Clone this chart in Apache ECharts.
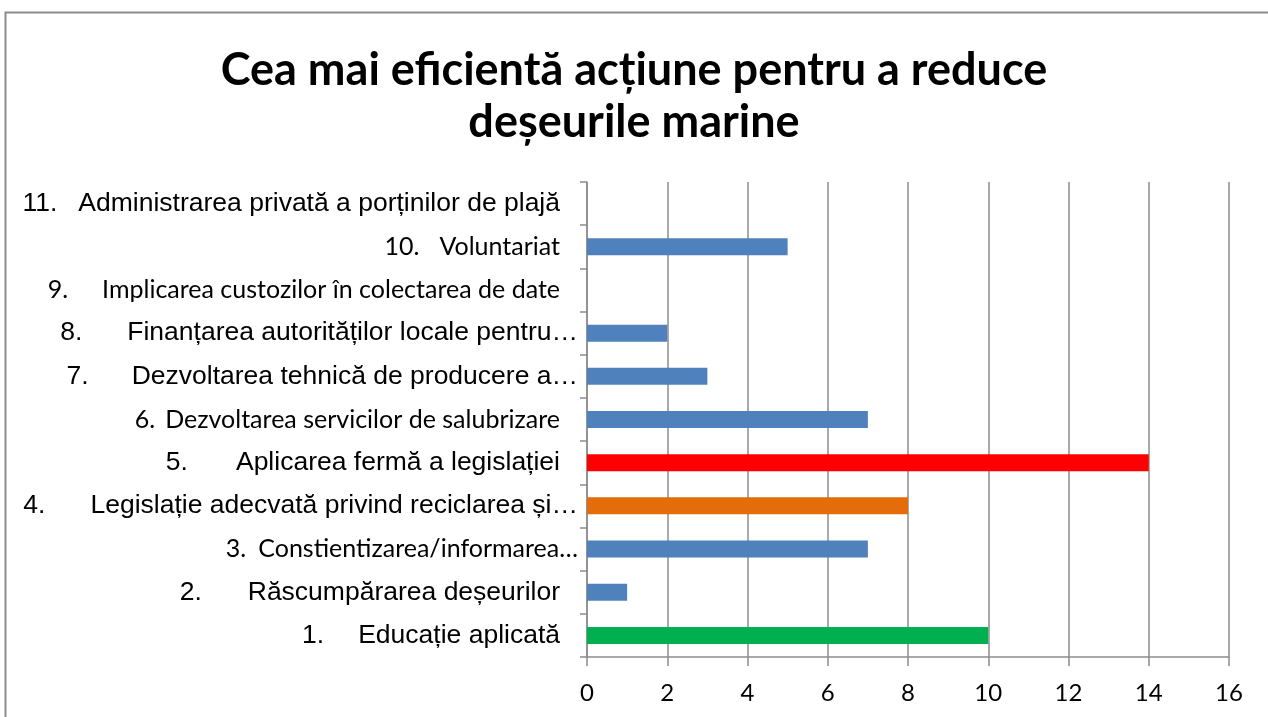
<!DOCTYPE html>
<html>
<head>
<meta charset="utf-8">
<script src="https://cdn.jsdelivr.net/npm/echarts@6/dist/echarts.min.js"></script>
<style>
  html, body { margin: 0; padding: 0; background: #fff; }
  #chart { width: 1268px; height: 717px; }
</style>
</head>
<body>
<div id="chart"></div>
<script>
const itemNumbers = ["1.", "2.", "3.", "4.", "5.", "6.", "7.", "8.", "9.", "10.", "11."];
const itemTexts = [
  "Educație aplicată",
  "Răscumpărarea deșeurilor",
  "Constientizarea/informarea…",
  "Legislație adecvată privind reciclarea și…",
  "Aplicarea fermă a legislației",
  "Dezvoltarea servicilor de salubrizare",
  "Dezvoltarea tehnică de producere a…",
  "Finanțarea autorităților locale pentru…",
  "Implicarea custozilor în colectarea de date",
  "Voluntariat",
  "Administrarea privată a porținilor de plajă",
];
const votes = [10, 1, 7, 8, 14, 7, 3, 2, 0, 5, 0];
const xTicks = [0, 2, 4, 6, 8, 10, 12, 14, 16];

// label look, per row (some rows came out in a different font in the original)
const calibriRows = [2, 5, 8, 9];
const truncatedRows = [2, 3, 6, 7];
const numberGaps = [34, 46, 12, 45, 48, 10, 43, 45, 34, 20, 21];
const highlight = { 0: "#00B050", 3: "#E46C0A", 4: "#FF0000" };

const rich = {};
itemNumbers.forEach((n, i) => {
  const calibri = calibriRows.includes(i);
  const font = calibri
    ? { fontFamily: "Lato", fontSize: 25 }
    : { fontFamily: "Liberation Sans", fontSize: 26.5 };
  rich["n" + i] = { ...font, color: "#000", padding: [0, numberGaps[i], 0, 0] };
  rich["t" + i] = { ...font, color: "#000", padding: [0, truncatedRows.includes(i) ? 0 : 18, 0, 0] };
});

const chart = echarts.init(document.getElementById("chart"));
chart.setOption({
  animation: false,
  title: {
    text: "Cea mai eficientă acțiune pentru a reduce\ndeșeurile marine",
    left: "center",
    top: 39,
    padding: [5, 0, 5, 12],
    textStyle: {
      fontFamily: "Lato",
      fontWeight: "bold",
      fontSize: 45,
      lineHeight: 52,
      color: "#000",
    },
  },
  graphic: [
    {
      type: "rect",
      left: 3,
      top: 10,
      shape: { width: 1290, height: 730 },
      style: { fill: "none", stroke: "#8c8c8c", lineWidth: 2 },
      silent: true,
    },
  ],
  grid: { left: 587, right: 39, top: 182, bottom: 60 },
  xAxis: {
    type: "value",
    min: 0,
    max: 16,
    interval: 2,
    axisLine: { show: true, lineStyle: { color: "#8c8c8c", width: 1.5 } },
    axisTick: { show: true, length: 9, lineStyle: { color: "#8c8c8c", width: 1.5 } },
    splitLine: { show: true, lineStyle: { color: "#8c8c8c", width: 1.5 } },
    axisLabel: {
      margin: 24,
      fontFamily: "Lato",
      fontSize: 24,
      color: "#000",
      formatter: (v) => (xTicks.includes(v) ? String(v) : ""),
    },
  },
  yAxis: {
    type: "category",
    data: itemTexts,
    axisLine: { show: true, lineStyle: { color: "#8c8c8c", width: 1.5 } },
    axisTick: { show: true, length: 7, lineStyle: { color: "#8c8c8c", width: 1.5 } },
    splitLine: { show: false },
    axisLabel: {
      margin: 9,
      interval: 0,
      rich,
      formatter: (value, index) => `{n${index}|${itemNumbers[index]}}{t${index}|${value}}`,
    },
  },
  series: [
    {
      type: "bar",
      barWidth: 17,
      data: votes.map((v, i) => ({
        value: v,
        itemStyle: { color: highlight[i] || "#4F81BD" },
      })),
    },
  ],
});
</script>
</body>
</html>
